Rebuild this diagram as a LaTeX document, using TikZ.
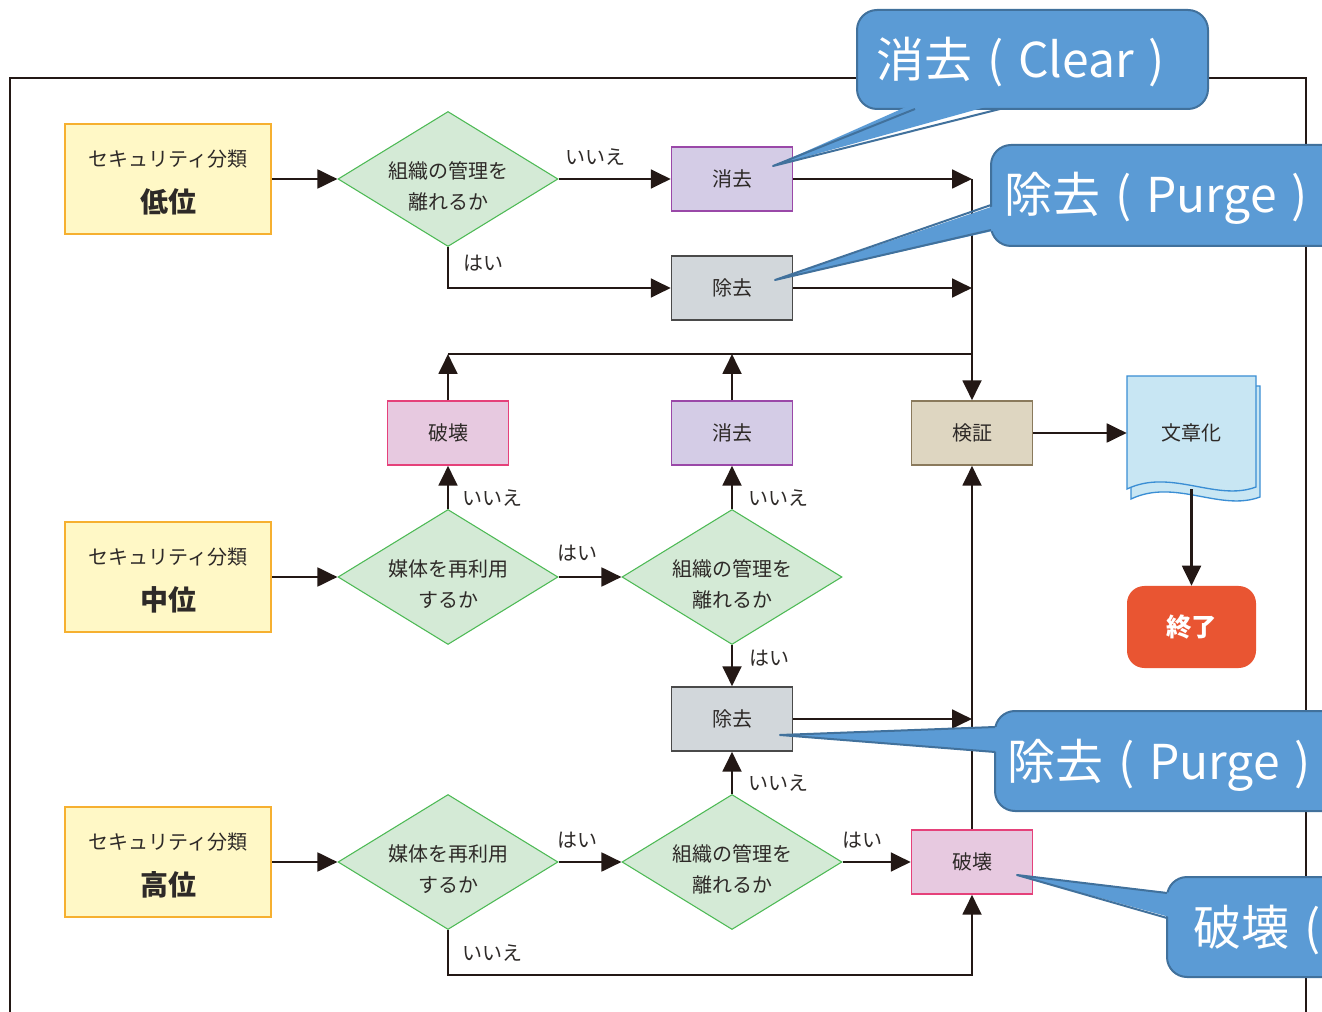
\documentclass[tikz,border=0pt]{standalone}
\usepackage{fontspec}
\setmainfont{Noto Sans CJK JP}
\usetikzlibrary{shapes.geometric,arrows.meta}
\definecolor{lc}{HTML}{231815}
\definecolor{txt}{HTML}{2E2A28}
\definecolor{ylf}{HTML}{FFF8C6}
\definecolor{ylb}{HTML}{F6B030}
\definecolor{dgf}{HTML}{D4EAD6}
\definecolor{dgb}{HTML}{4DBA55}
\definecolor{puf}{HTML}{D4CCE6}
\definecolor{pub}{HTML}{9A48A8}
\definecolor{grf}{HTML}{D2D7DB}
\definecolor{grb}{HTML}{4A4A4A}
\definecolor{pkf}{HTML}{E7C9E0}
\definecolor{pkb}{HTML}{E5417A}
\definecolor{bgf}{HTML}{DED6C1}
\definecolor{bgb}{HTML}{8A7A5C}
\definecolor{dcf}{HTML}{C8E6F3}
\definecolor{dcb}{HTML}{3A8ED4}
\definecolor{endf}{HTML}{E95532}
\definecolor{cof}{HTML}{5B9BD5}
\definecolor{cob}{HTML}{41719C}
\newcommand\dtext[2]{\raisebox{-6.5pt}[\height][\depth]{\begin{tabular}{@{}c@{}}#1\\#2\end{tabular}}}
\newcommand\clstext[1]{\raisebox{-4pt}[\height][\depth]{\begin{tabular}{@{}c@{}}セキュリティ分類\\[11pt]{\fontsize{21}{24}\selectfont\bfseries #1}\end{tabular}}}
\newcommand\ctext[2]{#1\hspace{0.32em}(\hspace{0.3em}#2\hspace{0.3em})}
\begin{document}
\begin{tikzpicture}[x=0.75pt,y=-0.75pt,
  ln/.style={draw=lc, line width=2.2pt},
  arr/.style={draw=lc, line width=2.2pt, -{Triangle[length=15pt,width=14pt]}},
  cls/.style={draw=ylb, fill=ylf, line width=2.2pt, minimum width=206*0.75pt, minimum height=110*0.75pt, inner sep=0pt, text=txt, font=\fontsize{15}{18}\selectfont},
  dia/.style={diamond, aspect=1.63, draw=dgb, fill=dgf, line width=0.8pt, minimum width=220*0.75pt, minimum height=135*0.75pt, inner sep=0pt, text=txt, font=\fontsize{15}{23}\selectfont},
  proc/.style={line width=1.1pt, minimum width=121*0.75pt, minimum height=64*0.75pt, inner sep=0pt, text=txt, font=\fontsize{15}{18}\selectfont},
  clrbox/.style={proc, draw=pub, fill=puf},
  prgbox/.style={proc, draw=grb, fill=grf},
  brkbox/.style={proc, draw=pkb, fill=pkf},
  lab/.style={text=txt, font=\fontsize{15}{18}\selectfont, inner sep=0pt},
  callout/.style={fill=cof, draw=cob, line width=1.5pt},
  cotext/.style={text=white, font=\fontsize{36}{40}\selectfont, inner sep=0pt, anchor=west}
]
\useasboundingbox (0,0) rectangle (1322,1012);
\clip (0,0) rectangle (1322,1012);
\fill[white] (0,0) rectangle (1322,1012);
% frame
\draw[lc, line width=1.5pt] (10,1030) -- (10,78) -- (1306,78) -- (1306,1030);

% nodes
\node[cls] (low) at (168,179) {\clstext{低位}};
\node[dia] (d1) at (448,179) {\dtext{組織の管理を}{離れるか}};
\node[clrbox] (clr1) at (732,179) {消去};
\node[prgbox] (prg1) at (732,288) {除去};

\node[brkbox] (brk1) at (448,433) {破壊};
\node[clrbox] (clr2) at (732,433) {消去};
\node[proc, draw=bgb, fill=bgf] (ver) at (972,433) {検証};

% document shape
\fill[dcf, draw=dcb, line width=1pt] (1131,386) -- (1260,386) -- (1260,497) .. controls (1220,512) and (1175,478) .. (1131,499) -- cycle;
\fill[dcf, draw=dcb, line width=1pt] (1127,376) -- (1256,376) -- (1256,487) .. controls (1216,502) and (1171,468) .. (1127,489) -- cycle;
\node[minimum width=129*0.75pt, minimum height=112*0.75pt, inner sep=0pt, text=txt, font=\fontsize{15}{18}\selectfont] (doc) at (1191.5,433) {文章化};
\node[fill=endf, rounded corners=13pt, minimum width=129*0.75pt, minimum height=82*0.75pt, inner sep=0pt, text=white, font=\fontsize{19}{22}\selectfont\bfseries] (end) at (1191.5,627) {終了};

\node[cls] (mid) at (168,577) {\clstext{中位}};
\node[dia] (d2) at (448,577) {\dtext{媒体を再利用}{するか}};
\node[dia] (d3) at (732,577) {\dtext{組織の管理を}{離れるか}};
\node[prgbox] (prg2) at (732,719) {除去};

\node[cls] (high) at (168,862) {\clstext{高位}};
\node[dia] (d4) at (448,862) {\dtext{媒体を再利用}{するか}};
\node[dia] (d5) at (732,862) {\dtext{組織の管理を}{離れるか}};
\node[brkbox] (brk2) at (972,862) {破壊};

% junctions
\coordinate (j1) at (972,179);
\coordinate (j2) at (972,288);
\coordinate (j3) at (448,354);
\coordinate (j4) at (732,354);
\coordinate (j5) at (972,354);
\coordinate (j7) at (972,719);
\coordinate (j8) at (448,975);
\coordinate (j9) at (972,975);

% connectors
\draw[arr] (low.east) -- (d1.west);
\draw[arr] (d1.east) -- (clr1.west);
\draw[arr] (d1.south) |- (prg1.west);
\draw[arr] (clr1.east) -- (j1);
\draw[arr] (prg1.east) -- (j2);
\draw[arr] (j1) -- (ver.north);
\draw[arr] (brk1.north) -- (j3);
\draw[arr] (clr2.north) -- (j4);
\draw[ln] (j3) -- (j5);
\draw[arr] (ver.east) -- (doc.west);
\draw[arr] (doc.south) -- (end.north);

\draw[arr] (mid.east) -- (d2.west);
\draw[arr] (d2.east) -- (d3.west);
\draw[arr] (d2.north) -- (brk1.south);
\draw[arr] (d3.north) -- (clr2.south);
\draw[arr] (d3.south) -- (prg2.north);
\draw[arr] (prg2.east) -- (j7);

\draw[arr] (high.east) -- (d4.west);
\draw[arr] (d4.east) -- (d5.west);
\draw[arr] (d5.east) -- (brk2.west);
\draw[arr] (d5.north) -- (prg2.south);
\draw[arr] (d4.south) -- (j8) -- (j9) -- (brk2.south);
\draw[arr] (brk2.north) -- (ver.south);

% labels
\node[lab] (l1) at (595,157) {いいえ};
\node[lab] (l2) at (483,263) {はい};
\node[lab] (l3) at (492,498) {いいえ};
\node[lab] (l4) at (778,498) {いいえ};
\node[lab] (l5) at (577,553) {はい};
\node[lab] (l6) at (769,658) {はい};
\node[lab] (l7) at (778,783) {いいえ};
\node[lab] (l8) at (577,840) {はい};
\node[lab] (l9) at (862,840) {はい};
\node[lab] (l10) at (492,953) {いいえ};

% callout 1
\draw[callout, rounded corners=15pt] (857,10) rectangle (1208,109);
\fill[cof] (915,103) -- (773,166) -- (1000,103) -- cycle;
\draw[cob, line width=1.5pt, line join=round] (915,109) -- (773,166) -- (1000,109);
\node[cotext] (c1) at (876,62) {\ctext{消去}{Clear}};

% callout 2
\draw[callout, rounded corners=15pt] (991,145) rectangle (1345,246);
\fill[cof] (997,205) -- (775,280) -- (997,230) -- cycle;
\draw[cob, line width=1.5pt, line join=round] (991,205) -- (775,280) -- (991,230);
\node[cotext] (c2) at (1004,198) {\ctext{除去}{Purge}};

% callout 3
\draw[callout, rounded corners=15pt] (995,711) rectangle (1345,811);
\fill[cof] (1001,727) -- (780,735) -- (1001,752) -- cycle;
\draw[cob, line width=1.5pt, line join=round] (995,727) -- (780,735) -- (995,752);
\node[cotext] (c3) at (1007,765) {\ctext{除去}{Purge}};

% callout 4
\draw[callout, rounded corners=15pt] (1167,877) rectangle (1345,977);
\fill[cof] (1173,893) -- (1017,875) -- (1173,918) -- cycle;
\draw[cob, line width=1.5pt, line join=round] (1167,893) -- (1017,875) -- (1167,918);
\node[cotext] (c4) at (1193,930) {破壊\hspace{0.32em}(};
\end{tikzpicture}
\end{document}
